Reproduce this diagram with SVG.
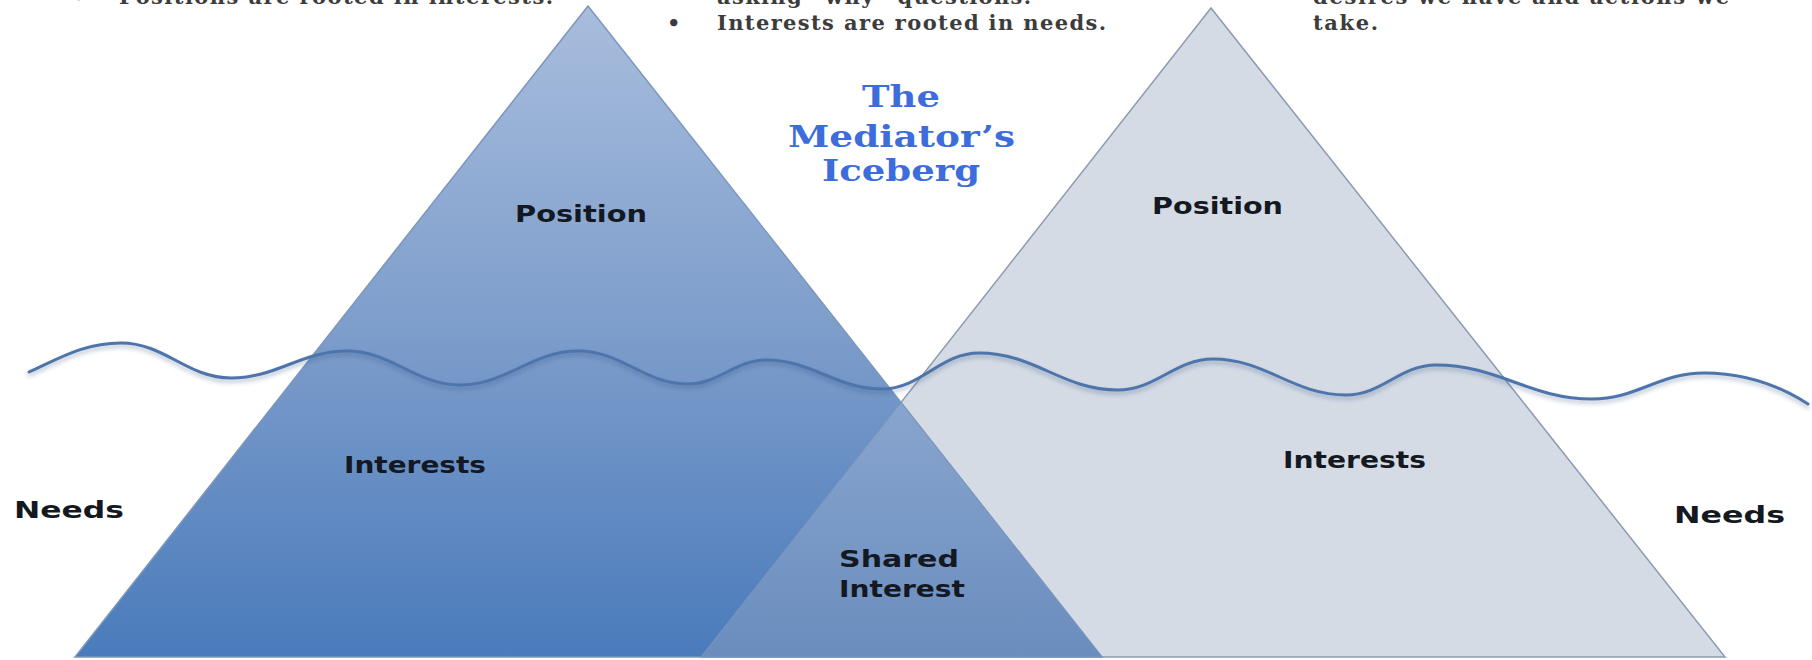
<svg xmlns="http://www.w3.org/2000/svg" width="1812" height="660" viewBox="0 0 1812 660">
<style>
.note{font-family:"DejaVu Serif","Liberation Serif",serif;font-weight:bold;font-size:21px;fill:#3c3c3c}
.title{font-family:"DejaVu Serif","Liberation Serif",serif;font-weight:bold;font-size:30px;fill:#3d6ddb}
.lbl{font-family:"DejaVu Sans","Liberation Sans",sans-serif;font-weight:bold;font-size:23px;fill:#141820}
</style>
<defs>
<linearGradient id="gLeft" gradientUnits="userSpaceOnUse" x1="0" y1="6" x2="0" y2="657">
<stop offset="0" stop-color="#a8bddd"/>
<stop offset="0.5" stop-color="#7d9dcb"/>
<stop offset="1" stop-color="#4a7bbb"/>
</linearGradient>
<linearGradient id="gShared" gradientUnits="userSpaceOnUse" x1="0" y1="402" x2="0" y2="657">
<stop offset="0" stop-color="#88a5ce"/>
<stop offset="1" stop-color="#6a8dbe"/>
</linearGradient>
<filter id="shadow" x="-5%" y="-50%" width="110%" height="200%">
<feDropShadow dx="0" dy="3" stdDeviation="2" flood-color="#27497a" flood-opacity="0.35"/>
</filter>
</defs>
<rect width="1812" height="660" fill="#ffffff"/>

<g id="notes">
<text class="note" x="72" y="4">•</text>
<text class="note" x="119" y="4" textLength="434" lengthAdjust="spacing">Positions are rooted in interests.</text>
<text class="note" x="717" y="4" textLength="314" lengthAdjust="spacing">asking “why” questions.</text>
<text class="note" x="667" y="30">•</text>
<text class="note" x="717" y="30" textLength="389" lengthAdjust="spacing">Interests are rooted in needs.</text>
<text class="note" x="1313" y="4" textLength="416" lengthAdjust="spacing">desires we have and actions we</text>
<text class="note" x="1313" y="30" textLength="65" lengthAdjust="spacing">take.</text>
</g>

<g id="iceberg-right">
<polygon points="1211,8 701,657 1725,657" fill="#d4dbe5" stroke="#8d9bb0" stroke-width="1.5"/>
</g>
<g id="iceberg-left">
<polygon points="588,6 75,657 1102,657" fill="url(#gLeft)" stroke="#7d96bb" stroke-width="1.5"/>
</g>
<g id="shared-interest">
<polygon points="901,402.5 701,657 1102,657" fill="url(#gShared)" stroke="#7d96bb" stroke-width="1"/>
</g>

<g id="connectors">
<path id="waterline" d="M29,372 C60,358 84,343 121,343 C165,343 187,378 231,378 C277,378 301,351 347,351 C392,351 415,385 460,385 C507,385 531,351 578,351 C622,351 644,384 688,384 C719,384 735,360 766,360 C812,360 836,389 882,389 C921,389 940,353 979,353 C1035,353 1062,390 1118,390 C1156,390 1175,359 1213,359 C1266,359 1293,395 1346,395 C1382,395 1400,365 1436,365 C1498,365 1530,399 1592,399 C1637,399 1659,373 1704,373 C1745,373 1780,386 1808,404" fill="none" stroke="#4d74ab" stroke-width="3" stroke-linecap="round" filter="url(#shadow)"/>
</g>

<g id="title">
<text class="title" x="862" y="107" textLength="78" lengthAdjust="spacingAndGlyphs">The</text>
<text class="title" x="788" y="147" textLength="227" lengthAdjust="spacingAndGlyphs">Mediator’s</text>
<text class="title" x="822" y="181" textLength="158" lengthAdjust="spacingAndGlyphs">Iceberg</text>
</g>

<g id="label-position-left"><text class="lbl" x="515" y="222" textLength="132" lengthAdjust="spacingAndGlyphs">Position</text></g>
<g id="label-position-right"><text class="lbl" x="1152" y="214" textLength="131" lengthAdjust="spacingAndGlyphs">Position</text></g>
<g id="label-interests-left"><text class="lbl" x="344" y="473" textLength="142" lengthAdjust="spacingAndGlyphs">Interests</text></g>
<g id="label-interests-right"><text class="lbl" x="1283" y="468" textLength="143" lengthAdjust="spacingAndGlyphs">Interests</text></g>
<g id="label-needs-left"><text class="lbl" x="14" y="518" textLength="110" lengthAdjust="spacingAndGlyphs">Needs</text></g>
<g id="label-needs-right"><text class="lbl" x="1674" y="523" textLength="111" lengthAdjust="spacingAndGlyphs">Needs</text></g>
<g id="label-shared">
<text class="lbl" x="839" y="567" textLength="120" lengthAdjust="spacingAndGlyphs">Shared</text>
<text class="lbl" x="839" y="597" textLength="126" lengthAdjust="spacingAndGlyphs">Interest</text>
</g>
</svg>
